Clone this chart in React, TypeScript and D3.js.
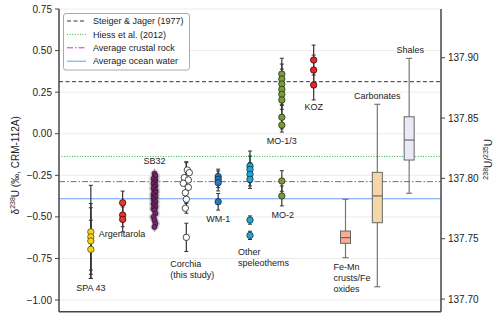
import React from "react";
import * as d3 from "d3";

// ---------- data ----------
const leftTicks = [0.75, 0.5, 0.25, 0, -0.25, -0.5, -0.75, -1.0];
const rightTicks = [137.7, 137.75, 137.8, 137.85, 137.9];
const R0 = 137.837;

const refNames = ["Steiger & Jager (1977)", "Hiess et al. (2012)", "Average crustal rock", "Average ocean water"];
const refValues = [0.313, -0.137, -0.288, -0.391];
const refColors = ["#333333", "#2db34a", "#cc33cc", "#6b9bf0"];
const refDash = ["4,2.5", "1,1.6", "6,2,1.5,2", ""];

// point groups (position index on x, values, 2σ errors, fill)
const spaVals = [-0.59, -0.62, -0.645, -0.695];
const spaErr = [0.28, 0.2, 0.2, 0.175];
const argVals = [-0.415, -0.489, -0.515];
const argErr = [0.07, 0.07, 0.075];
const sbVals = [-0.24, -0.255, -0.27, -0.28, -0.29, -0.3, -0.31, -0.32, -0.33, -0.34, -0.35, -0.355, -0.365, -0.375, -0.38, -0.39, -0.4, -0.41, -0.42, -0.43, -0.44, -0.45, -0.46, -0.48, -0.5, -0.52, -0.54, -0.56];
const sbErr = [0.03, 0.03, 0.03, 0.03, 0.03, 0.03, 0.03, 0.03, 0.03, 0.03, 0.03, 0.03, 0.03, 0.03, 0.03, 0.03, 0.03, 0.03, 0.03, 0.03, 0.03, 0.03, 0.03, 0.03, 0.03, 0.03, 0.03, 0.03];
const sbJit = [0, 1, -1, 1, 0, -1, 1, 0, -1, 1, 0, 1, -1, 0, 1, -1, 0, 1, -1, 0, 1, -1, 0, 1, -1, 0, 1, 0];
const corVals = [-0.218, -0.234, -0.264, -0.278, -0.298, -0.322, -0.355, -0.394, -0.448, -0.623];
const corErr = [0.05, 0.06, 0.05, 0.06, 0.05, 0.06, 0.06, 0.05, 0.03, 0.085];
const corJit = [1, 3, -2, 2, -3, 2, -1, 0, -1, 0];
const wmVals = [-0.258, -0.274, -0.294, -0.409];
const wmErr = [0.045, 0.05, 0.05, 0.05];
const othVals = [-0.194, -0.214, -0.244, -0.274, -0.519, -0.611];
const othErr = [0.09, 0.08, 0.07, 0.055, 0.025, 0.025];
const mo13Vals = [0.359, 0.329, 0.299, 0.267, 0.237, 0.203, 0.099, 0.052];
const mo13Err = [0.095, 0.09, 0.09, 0.09, 0.09, 0.09, 0.07, 0.042];
const mo2Vals = [-0.284, -0.374];
const mo2Err = [0.062, 0.06];
const kozVals = [0.443, 0.383, 0.293];
const kozErr = [0.09, 0.09, 0.09];

const pointGroups = [
  { name: "SPA 43", pos: 1, vals: spaVals, err: spaErr, fill: "#f7d219", stroke: "#5a4a00" },
  { name: "Argentarola", pos: 2, vals: argVals, err: argErr, fill: "#e4382b", stroke: "#3a0a05" },
  { name: "Corchia", pos: 4, vals: corVals, err: corErr, fill: "#ffffff", stroke: "#222", jit: corJit },
  { name: "WM-1", pos: 5, vals: wmVals, err: wmErr, fill: "#2b79b8", stroke: "#0d2a44" },
  { name: "Other speleothems", pos: 6, vals: othVals, err: othErr, fill: "#22a6d6", stroke: "#0b3446" },
  { name: "MO-1/3", pos: 7, vals: mo13Vals, err: mo13Err, fill: "#7b9a3a", stroke: "#273313" },
  { name: "MO-2", pos: 7, vals: mo2Vals, err: mo2Err, fill: "#7b9a3a", stroke: "#273313" },
  { name: "KOZ", pos: 8, vals: kozVals, err: kozErr, fill: "#e8262a", stroke: "#3a0a05" },
];

// box plots
const boxNames = ["Fe-Mn crusts/Fe oxides", "Carbonates", "Shales"];
const boxPos = [9, 10, 11];
const boxLow = [-0.745, -0.92, -0.358];
const boxQ1 = [-0.659, -0.535, -0.158];
const boxMed = [-0.625, -0.374, -0.038];
const boxQ3 = [-0.585, -0.232, 0.102];
const boxHigh = [-0.394, 0.177, 0.453];
const boxFill = ["#f7ad90", "#f5d6a6", "#e9e9f7"];

// annotation labels
const labels = [
  { lines: ["SPA 43"], pos: 1, v: -0.87, dx: 0, dy: 13, anchor: "middle" },
  { lines: ["Argentarola"], pos: 2, v: -0.62, dx: -24, dy: 0, anchor: "start" },
  { lines: ["SB32"], pos: 3, v: -0.18, dx: 0, dy: 0, anchor: "middle" },
  { lines: ["Corchia", "(this study)"], pos: 4, v: -0.71, dx: -16, dy: 15, anchor: "start" },
  { lines: ["WM-1"], pos: 5, v: -0.46, dx: 0, dy: 12, anchor: "middle" },
  { lines: ["Other", "speleothems"], pos: 6, v: -0.64, dx: -12, dy: 15, anchor: "start" },
  { lines: ["MO-1/3"], pos: 7, v: 0.01, dx: 0, dy: 12, anchor: "middle" },
  { lines: ["MO-2"], pos: 7, v: -0.435, dx: 1, dy: 12, anchor: "middle" },
  { lines: ["KOZ"], pos: 8, v: 0.203, dx: 0, dy: 10, anchor: "middle" },
  { lines: ["Fe-Mn", "crusts/Fe", "oxides"], pos: 9, v: -0.745, dx: -12, dy: 12, anchor: "start" },
  { lines: ["Carbonates"], pos: 10, v: 0.177, dx: 0, dy: -5, anchor: "middle" },
  { lines: ["Shales"], pos: 11, v: 0.453, dx: 1, dy: -5, anchor: "middle" },
];

// ---------- layout ----------
const W = 500, H = 322;
const X0 = 59, X1 = 441, YT = 9, YB = 311.7;
const FONT = "'Liberation Sans', Arial, Helvetica, sans-serif";

export default function App() {
  const y = d3.scaleLinear().domain([-1.07, 0.75]).range([YB, YT]);
  const yR = d3.scaleLinear().domain([R0 * (1 - 1.07 / 1000), R0 * (1 + 0.75 / 1000)]).range([YB, YT]);
  const x = d3.scaleLinear().domain([0, 12]).range([X0, X1]);
  const fmtL = d3.format(".2f");
  const fmtR = d3.format(".2f");

  return (
    <svg width={W} height={H} style={{ position: "absolute", left: 0, top: 0, background: "#fff" }} fontFamily={FONT}>
      {/* gridlines */}
      {leftTicks.map((t) => (
        <line key={"g" + t} x1={X0} x2={X1} y1={y(t)} y2={y(t)} stroke="#ececec" strokeWidth={1} />
      ))}
      {/* reference lines */}
      {refValues.map((v, i) => (
        <line key={"r" + i} x1={X0} x2={X1} y1={y(v)} y2={y(v)} stroke={refColors[i]} strokeWidth={1} strokeDasharray={refDash[i] || undefined} />
      ))}

      {/* SB32 cloud */}
      <g>
        {sbVals.map((v, i) => (
          <line key={"sbe" + i} x1={x(3) + sbJit[i]} x2={x(3) + sbJit[i]} y1={y(v - sbErr[i])} y2={y(v + sbErr[i])} stroke="#777" strokeOpacity={0.6} strokeWidth={1.5} />
        ))}
        {sbVals.map((v, i) => (
          <circle key={"sbh" + i} cx={x(3) + sbJit[i] * 1.6} cy={y(v)} r={4.2} fill="#8a8a8a" fillOpacity={0.3} />
        ))}
        {sbVals.map((v, i) => (
          <circle key={"sb" + i} cx={x(3) + sbJit[i]} cy={y(v)} r={2.6} fill="#75296c" stroke="#2a0a26" strokeWidth={0.6} />
        ))}
      </g>

      {/* point groups */}
      {pointGroups.map((g) => (
        <g key={g.name}>
          {g.vals.map((v, i) => {
            const cx = x(g.pos);
            return (
              <g key={"e" + i}>
                <line x1={cx} x2={cx} y1={y(v - g.err[i])} y2={y(v + g.err[i])} stroke="#333" strokeWidth={1.2} />
                <line x1={cx - 2} x2={cx + 2} y1={y(v - g.err[i])} y2={y(v - g.err[i])} stroke="#333" strokeWidth={1} />
                <line x1={cx - 2} x2={cx + 2} y1={y(v + g.err[i])} y2={y(v + g.err[i])} stroke="#333" strokeWidth={1} />
              </g>
            );
          })}
          {g.vals.map((v, i) => (
            <circle key={"p" + i} cx={x(g.pos) + (g.jit ? g.jit[i] : 0)} cy={y(v)} r={3.2} fill={g.fill} stroke={g.stroke} strokeWidth={0.8} />
          ))}
        </g>
      ))}

      {/* box plots */}
      {boxNames.map((n, i) => {
        const cx = x(boxPos[i]);
        const bw = 10;
        return (
          <g key={n}>
            <line x1={cx} x2={cx} y1={y(boxHigh[i])} y2={y(boxQ3[i])} stroke="#777" strokeWidth={1.2} />
            <line x1={cx} x2={cx} y1={y(boxQ1[i])} y2={y(boxLow[i])} stroke="#777" strokeWidth={1.2} />
            <line x1={cx - 3} x2={cx + 3} y1={y(boxHigh[i])} y2={y(boxHigh[i])} stroke="#777" strokeWidth={1.2} />
            <line x1={cx - 3} x2={cx + 3} y1={y(boxLow[i])} y2={y(boxLow[i])} stroke="#777" strokeWidth={1.2} />
            <rect x={cx - bw / 2} y={y(boxQ3[i])} width={bw} height={y(boxQ1[i]) - y(boxQ3[i])} fill={boxFill[i]} stroke="#666" strokeWidth={1} />
            <line x1={cx - bw / 2} x2={cx + bw / 2} y1={y(boxMed[i])} y2={y(boxMed[i])} stroke="#555" strokeWidth={1} />
          </g>
        );
      })}

      {/* annotation labels */}
      {labels.map((l, i) => (
        <text key={"l" + i} x={x(l.pos) + l.dx} y={y(l.v) + l.dy} fontSize={9} fill="#222" textAnchor={l.anchor as any}>
          {l.lines.map((s, j) => (
            <tspan key={j} x={x(l.pos) + l.dx} dy={j === 0 ? 0 : 11}>{s}</tspan>
          ))}
        </text>
      ))}

      {/* spines */}
      <line x1={X0} x2={X0} y1={YT} y2={YB} stroke="#444" strokeWidth={1.5} />
      <line x1={X1} x2={X1} y1={YT} y2={YB} stroke="#444" strokeWidth={1.5} />
      <line x1={X0} x2={X1} y1={YB} y2={YB} stroke="#444" strokeWidth={1.5} />

      {/* left axis */}
      {leftTicks.map((t) => (
        <g key={"lt" + t}>
          <line x1={X0 - 4} x2={X0} y1={y(t)} y2={y(t)} stroke="#444" strokeWidth={1} />
          <text x={X0 - 7} y={y(t)} dy="0.35em" fontSize={10} textAnchor="end" fill="#222">{fmtL(t)}</text>
        </g>
      ))}
      {/* right axis */}
      {rightTicks.map((t) => (
        <g key={"rt" + t}>
          <line x1={X1} x2={X1 + 4} y1={yR(t)} y2={yR(t)} stroke="#444" strokeWidth={1} />
          <text x={X1 + 7} y={yR(t)} dy="0.35em" fontSize={10} textAnchor="start" fill="#222">{fmtR(t)}</text>
        </g>
      ))}

      {/* axis titles */}
      <text transform={`translate(19,${(YT + YB) / 2 + 5}) rotate(-90)`} fontSize={10} textAnchor="middle" fill="#222">
        δ<tspan fontSize={7} dy={-4}>238</tspan><tspan dy={4}>U (‰, CRM-112A)</tspan>
      </text>
      <text transform={`translate(492,${(YT + YB) / 2 - 1}) rotate(-90)`} fontSize={10} textAnchor="middle" fill="#222">
        <tspan fontSize={7} dy={-4}>238</tspan><tspan dy={4}>U/</tspan><tspan fontSize={7} dy={-4}>235</tspan><tspan dy={4}>U</tspan>
      </text>

      {/* legend */}
      <g>
        <rect x={63.5} y={13.5} width={126} height={56.5} rx={2.5} fill="#fff" fillOpacity={0.9} stroke="#aaa" strokeWidth={1} />
        {refNames.map((n, i) => {
          const ly = 21 + i * 13.4;
          return (
            <g key={"lg" + i}>
              <line x1={67} x2={86} y1={ly} y2={ly} stroke={refColors[i]} strokeWidth={1} strokeDasharray={refDash[i] || undefined} />
              <text x={93} y={ly} dy="0.35em" fontSize={9} fill="#222">{n}</text>
            </g>
          );
        })}
      </g>
    </svg>
  );
}
